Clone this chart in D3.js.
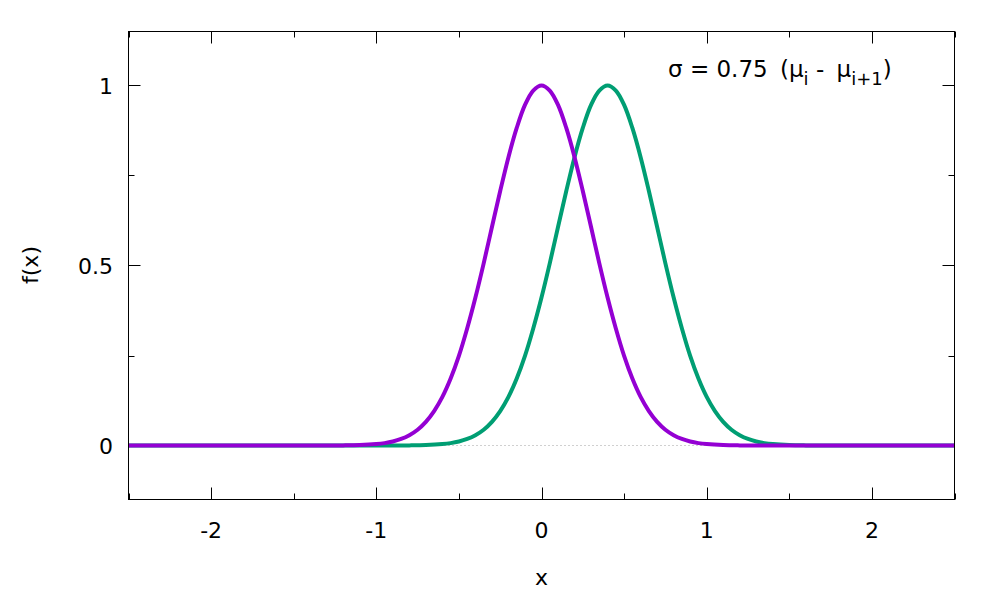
<!DOCTYPE html>
<html><head><meta charset="utf-8">
<script src="https://cdn.jsdelivr.net/npm/d3@7"></script>
<style>body{margin:0;background:#fff}svg text{font-family:"DejaVu Sans",Verdana,sans-serif;}</style>
</head><body>
<svg id="c" width="1000" height="600"></svg>
<script>
// Data
const purpleX = [-2.5,-2,-1.5,-1.4,-1.3,-1.2,-1.1,-1,-0.95,-0.9,-0.85,-0.8,-0.75,-0.7,-0.65,-0.6,-0.55,-0.5,-0.45,-0.4,-0.35,-0.3,-0.25,-0.2,-0.15,-0.1,-0.05,0,0.05,0.1,0.15,0.2,0.25,0.3,0.35,0.4,0.45,0.5,0.55,0.6,0.65,0.7,0.75,0.8,0.85,0.9,0.95,1,1.1,1.2,1.3,1.4,1.5,2,2.5];
const purpleY = [0,0,0,0,0.0001,0.0003,0.0012,0.0039,0.0066,0.0111,0.0181,0.0286,0.0439,0.0657,0.0956,0.135,0.186,0.249,0.325,0.411,0.506,0.607,0.707,0.801,0.882,0.946,0.986,1,0.986,0.946,0.882,0.801,0.707,0.607,0.506,0.411,0.325,0.249,0.186,0.135,0.0956,0.0657,0.0439,0.0286,0.0181,0.0111,0.0066,0.0039,0.0012,0.0003,0.0001,0,0,0,0];
const greenX = [-2.5,-2,-1.5,-1,-0.9,-0.8,-0.7,-0.6,-0.55,-0.5,-0.45,-0.4,-0.35,-0.3,-0.25,-0.2,-0.15,-0.1,-0.05,0,0.05,0.1,0.15,0.2,0.25,0.3,0.35,0.4,0.45,0.5,0.55,0.6,0.65,0.7,0.75,0.8,0.85,0.9,0.95,1,1.05,1.1,1.15,1.2,1.25,1.3,1.35,1.4,1.5,1.6,1.7,1.8,2,2.5];
const greenY = [0,0,0,0,0.0001,0.0003,0.0012,0.0039,0.0066,0.0111,0.0181,0.0286,0.0439,0.0657,0.0956,0.135,0.186,0.249,0.325,0.411,0.506,0.607,0.707,0.801,0.882,0.946,0.986,1,0.986,0.946,0.882,0.801,0.707,0.607,0.506,0.411,0.325,0.249,0.186,0.135,0.0956,0.0657,0.0439,0.0286,0.0181,0.0111,0.0066,0.0039,0.0012,0.0003,0.0001,0,0,0];
const xTicks = [-2,-1,0,1,2];
const xMinor = [-2.5,-1.5,-0.5,0.5,1.5,2.5];
const yTicks = [0,0.5,1];
const yMinor = [0.25,0.75];
const xLabel = "x";
const yLabel = "f(x)";
// annotation pieces: [text, isSubscript, extra gap before]
const annotation = [["σ = 0.75 ",0,0],["(μ",0,5],["i",1,0],[" - ",0,0],["μ",0,5],["i+1",1,0],[")",0,0]];

const L=128.5, R=954.5, T=31.5, B=499.5;
const svg = d3.select("#c");
const x = d3.scaleLinear().domain([-2.5,2.5]).range([L,R]);
const y = d3.scaleLinear().domain([-0.15,1.15]).range([B,T]);

svg.append("defs").append("clipPath").attr("id","clip")
  .append("rect").attr("x",L).attr("y",T).attr("width",R-L).attr("height",B-T);

// zero axis dotted
svg.append("line").attr("x1",L).attr("x2",R).attr("y1",Math.round(y(0))+0.5).attr("y2",Math.round(y(0))+0.5)
  .attr("stroke","#a0a0a0").attr("stroke-width",1).attr("stroke-dasharray","1,3");

const fmt = d => d===0 ? "0" : String(d);
const tickG = svg.append("g").attr("stroke","#000").attr("stroke-width",1);
xTicks.forEach(t=>{
  const px = Math.round(x(t))+0.5;
  tickG.append("line").attr("x1",px).attr("x2",px).attr("y1",B).attr("y2",B-12);
  tickG.append("line").attr("x1",px).attr("x2",px).attr("y1",T).attr("y2",T+12);
});
xMinor.forEach(t=>{
  const px = Math.round(x(t))+0.5;
  tickG.append("line").attr("x1",px).attr("x2",px).attr("y1",B).attr("y2",B-6);
  tickG.append("line").attr("x1",px).attr("x2",px).attr("y1",T).attr("y2",T+6);
});
yTicks.forEach(t=>{
  const py = Math.round(y(t))+0.5;
  tickG.append("line").attr("y1",py).attr("y2",py).attr("x1",L).attr("x2",L+12);
  tickG.append("line").attr("y1",py).attr("y2",py).attr("x1",R).attr("x2",R-12);
});
yMinor.forEach(t=>{
  const py = Math.round(y(t))+0.5;
  tickG.append("line").attr("y1",py).attr("y2",py).attr("x1",L).attr("x2",L+6);
  tickG.append("line").attr("y1",py).attr("y2",py).attr("x1",R).attr("x2",R-6);
});

svg.append("g").selectAll("text").data(xTicks).join("text")
  .attr("x",d=>x(d)).attr("y",538).attr("text-anchor","middle")
  .attr("font-size",22).attr("fill","#000").text(fmt);
svg.append("g").selectAll("text").data(yTicks).join("text")
  .attr("x",113).attr("y",d=>y(d)+8).attr("text-anchor","end")
  .attr("font-size",22).attr("fill","#000").text(fmt);

svg.append("text").attr("x",x(0)).attr("y",585).attr("text-anchor","middle")
  .attr("font-size",22).text(xLabel);
svg.append("text").attr("transform","translate(38,265) rotate(-90)").attr("text-anchor","middle")
  .attr("font-size",22).text(yLabel);

const line = d3.line().x(d=>x(d[0])).y(d=>y(d[1])).curve(d3.curveCatmullRom);
const plot = svg.append("g").attr("clip-path","url(#clip)");
plot.append("path").datum(greenX.map((v,i)=>[v,greenY[i]]))
  .attr("d",line).attr("fill","none").attr("stroke","#009e73").attr("stroke-width",4).attr("stroke-linejoin","round");
plot.append("path").datum(purpleX.map((v,i)=>[v,purpleY[i]]))
  .attr("d",line).attr("fill","none").attr("stroke","#9400d3").attr("stroke-width",4).attr("stroke-linejoin","round");

// frame
svg.append("rect").attr("x",L).attr("y",T).attr("width",R-L).attr("height",B-T)
  .attr("fill","none").attr("stroke","#000").attr("stroke-width",1);

// annotation
const ann = svg.append("text").attr("x",668).attr("y",77).attr("fill","#000").attr("font-size",23)
  .style("white-space","pre").attr("xml:space","preserve");
let prevSub = 0;
annotation.forEach(p=>{
  const dy = (p[1]?8:0) - (prevSub?8:0);
  ann.append("tspan").attr("dy",dy).attr("dx",p[2])
    .attr("font-size",p[1]?18:23).text(p[0]);
  prevSub = p[1];
});
</script>
</body></html>
